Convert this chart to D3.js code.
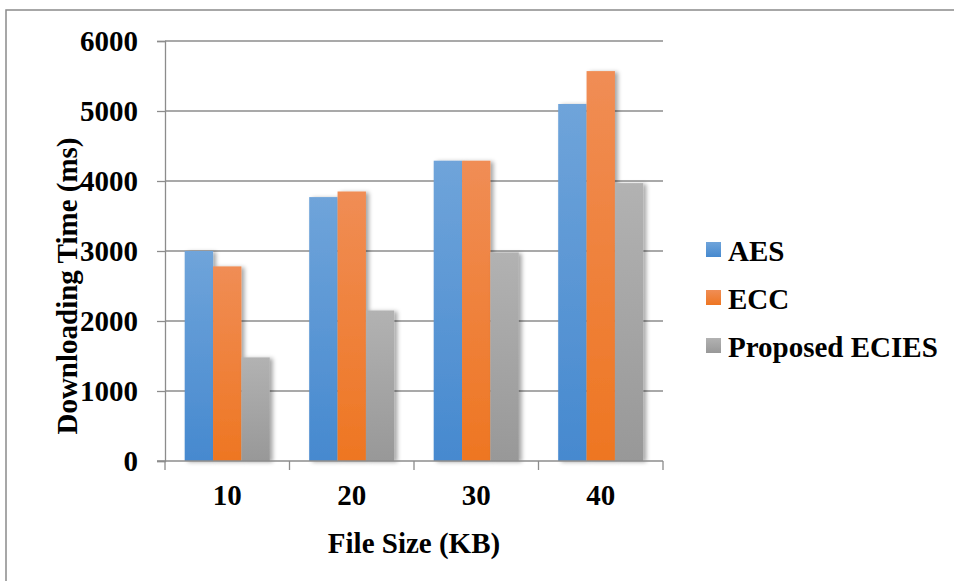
<!DOCTYPE html>
<html>
<head>
<meta charset="utf-8">
<script src="https://cdn.jsdelivr.net/npm/d3@7/dist/d3.min.js"></script>
<style>
  html, body { margin: 0; padding: 0; background: #fff; }
  svg { display: block; }
</style>
</head>
<body>
<svg id="chart" width="954" height="581"></svg>
<script>
// Downloading time per file size for three encryption schemes
const categories = ["10", "20", "30", "40"];
const seriesNames = ["AES", "ECC", "Proposed ECIES"];
const aesValues = [3000, 3770, 4290, 5100];
const eccValues = [2780, 3850, 4290, 5570];
const eciesValues = [1480, 2150, 2980, 3970];
const yTicks = [0, 1000, 2000, 3000, 4000, 5000, 6000];

const seriesValues = [aesValues, eccValues, eciesValues];
const colors = [
  { top: "#6fa4da", bottom: "#4689cf" },
  { top: "#f08d55", bottom: "#ee7622" },
  { top: "#b2b2b2", bottom: "#989898" }
];
const FONT = "'Times New Roman', 'Liberation Serif', Times, 'DejaVu Serif', serif";
const FONT_SIZE = "29px";

const svg = d3.select("#chart");
const plot = { left: 165, right: 663, top: 41, bottom: 461 };

function styleText(sel) {
  return sel.attr("font-family", FONT).style("font-family", FONT)
    .attr("font-weight", "bold").style("font-weight", "bold")
    .style("font-size", FONT_SIZE).attr("fill", "#000");
}

// outer frame
svg.append("rect")
  .attr("x", 6).attr("y", 10)
  .attr("width", 1000).attr("height", 700)
  .attr("fill", "none").attr("stroke", "#8a8a8a").attr("stroke-width", 1.5);

const defs = svg.append("defs");
colors.forEach((c, i) => {
  const g = defs.append("linearGradient").attr("id", "grad" + i)
    .attr("x1", 0).attr("y1", 0).attr("x2", 0).attr("y2", 1);
  g.append("stop").attr("offset", "0%").attr("stop-color", c.top);
  g.append("stop").attr("offset", "100%").attr("stop-color", c.bottom);
});
const shadow = defs.append("filter").attr("id", "shadow")
  .attr("x", "-30%").attr("y", "-10%").attr("width", "170%").attr("height", "120%");
shadow.append("feDropShadow").attr("dx", 3).attr("dy", 1).attr("stdDeviation", 2.2)
  .attr("flood-color", "#000").attr("flood-opacity", 0.35);

const x0 = d3.scaleBand().domain(categories).range([plot.left, plot.right]).padding(0);
const groupPad = 19.7;
const x1 = d3.scaleBand().domain(seriesNames)
  .range([groupPad, x0.bandwidth() - groupPad]).padding(0);
const y = d3.scaleLinear().domain([0, 6000]).range([plot.bottom, plot.top]);

// horizontal gridlines
svg.append("g").selectAll("line").data(yTicks.filter(t => t > 0)).join("line")
  .attr("x1", plot.left).attr("x2", plot.right)
  .attr("y1", d => y(d)).attr("y2", d => y(d))
  .attr("stroke", "#8c8c8c").attr("stroke-width", 1.3);

// y axis
const yAxis = svg.append("g").attr("transform", `translate(${plot.left},0)`)
  .call(d3.axisLeft(y).tickValues(yTicks).tickSize(8).tickPadding(19).tickFormat(d3.format("d")));
yAxis.attr("font-family", FONT);
yAxis.select(".domain").attr("stroke", "#8c8c8c").attr("stroke-width", 1.3);
yAxis.selectAll(".tick line").attr("stroke", "#8c8c8c").attr("stroke-width", 1.3);
styleText(yAxis.selectAll(".tick text")).attr("dy", "0.34em");

// bars
const groups = svg.append("g").selectAll("g").data(categories).join("g")
  .attr("transform", d => `translate(${x0(d)},0)`);
groups.selectAll("rect")
  .data((d, ci) => seriesNames.map((s, si) => ({ s, si, v: seriesValues[si][ci] })))
  .join("rect")
  .attr("x", d => x1(d.s))
  .attr("y", d => y(d.v))
  .attr("width", x1.bandwidth())
  .attr("height", d => y(0) - y(d.v))
  .attr("fill", d => `url(#grad${d.si})`)
  .attr("filter", "url(#shadow)");

// x axis with ticks between categories
const xAxisG = svg.append("g");
xAxisG.append("line")
  .attr("x1", plot.left - 8).attr("x2", plot.right)
  .attr("y1", plot.bottom).attr("y2", plot.bottom)
  .attr("stroke", "#8c8c8c").attr("stroke-width", 1.3);
const boundaries = categories.map(c => x0(c)).concat([x0(categories[categories.length - 1]) + x0.bandwidth()]);
xAxisG.selectAll("line.tk").data(boundaries).join("line").attr("class", "tk")
  .attr("x1", d => d).attr("x2", d => d)
  .attr("y1", plot.bottom).attr("y2", plot.bottom + 9)
  .attr("stroke", "#8c8c8c").attr("stroke-width", 1.3);
styleText(xAxisG.selectAll("text").data(categories).join("text")
  .attr("x", d => x0(d) + x0.bandwidth() / 2)
  .attr("y", 505)
  .attr("text-anchor", "middle"))
  .text(d => d);

// axis titles
styleText(svg.append("text")
  .attr("x", (plot.left + plot.right) / 2).attr("y", 553)
  .attr("text-anchor", "middle"))
  .text("File Size (KB)");
styleText(svg.append("text")
  .attr("transform", "translate(77,286) rotate(-90)")
  .attr("text-anchor", "middle"))
  .text("Downloading Time (ms)");

// legend
const legend = svg.append("g").selectAll("g").data(seriesNames).join("g")
  .attr("transform", (d, i) => `translate(706,${250 + i * 48})`);
legend.append("rect")
  .attr("x", 0).attr("y", -8).attr("width", 15).attr("height", 15)
  .attr("fill", (d, i) => `url(#grad${i})`);
styleText(legend.append("text")
  .attr("x", 22).attr("y", 11))
  .text(d => d);
</script>
</body>
</html>
